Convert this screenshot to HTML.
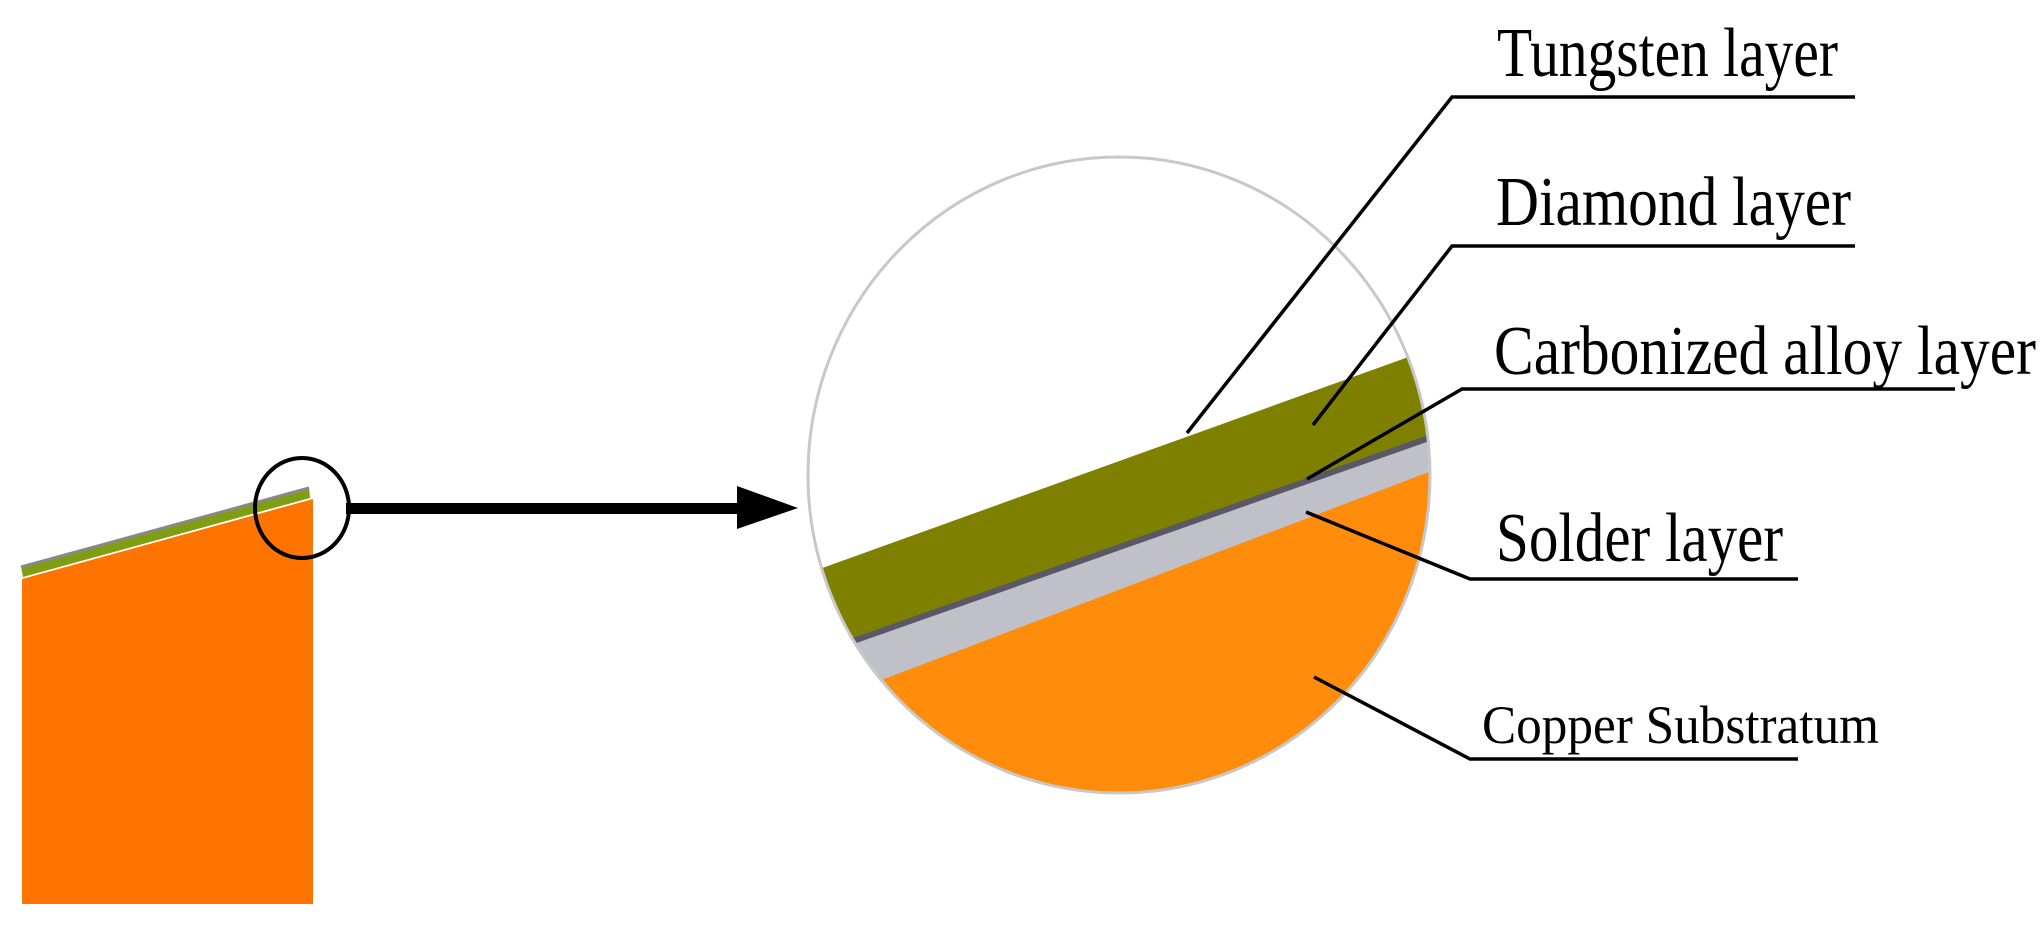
<!DOCTYPE html>
<html><head><meta charset="utf-8"><style>html,body{margin:0;padding:0;background:#fff;overflow:hidden}svg{display:block}</style></head>
<body>
<svg width="2044" height="927" viewBox="0 0 2044 927" xmlns="http://www.w3.org/2000/svg">
<defs><clipPath id="c"><ellipse cx="1119" cy="475" rx="311" ry="318"/></clipPath></defs>
<!-- left part -->
<polygon points="22,579 313,499 313,904 22,904" fill="#ff7300"/>
<polygon points="21,566 309,487 310,498 23,577" fill="#7f9e12"/>
<line x1="21" y1="567" x2="309" y2="488" stroke="#888" stroke-width="3"/>
<ellipse cx="302" cy="508" rx="47" ry="50" fill="none" stroke="#000" stroke-width="4"/>
<rect x="346" y="503" width="395" height="11" fill="#000"/>
<polygon points="737,486 798,508 737,529" fill="#000"/>
<!-- big circle -->
<g clip-path="url(#c)">
<polygon points="700,612 1500,324 1500,1000 700,1000" fill="#808000"/>
<polygon points="700,695 1500,413 1500,1000 700,1000" fill="#c0c0c8"/>
<line x1="700" y1="695" x2="1500" y2="413" stroke="#585866" stroke-width="6"/>
<polygon points="700,749 1500,445 1500,1000 700,1000" fill="#ff8c0a"/>
</g>
<ellipse cx="1119" cy="475" rx="311" ry="318" fill="none" stroke="#c8c8c8" stroke-width="3"/>
<!-- leaders -->
<g stroke="#000" stroke-width="3.5" fill="none">
<polyline points="1187,433 1452,97 1855,97"/>
<polyline points="1313,425 1452,246 1855,246"/>
<polyline points="1307,479 1462,389 1955,389"/>
<polyline points="1306,512 1470,579 1798,579"/>
<polyline points="1314,677 1470,759 1798,759"/>
</g>
<g font-family="Liberation Serif, serif" fill="#000">
<text x="1497" y="76" font-size="70" textLength="341" lengthAdjust="spacingAndGlyphs">Tungsten layer</text>
<text x="1496" y="225" font-size="70" textLength="355" lengthAdjust="spacingAndGlyphs">Diamond layer</text>
<text x="1494" y="374" font-size="70" textLength="542" lengthAdjust="spacingAndGlyphs">Carbonized alloy layer</text>
<text x="1496" y="561" font-size="70" textLength="287" lengthAdjust="spacingAndGlyphs">Solder layer</text>
<text x="1482" y="743" font-size="54" textLength="397" lengthAdjust="spacingAndGlyphs">Copper Substratum</text>
</g>
</svg>
</body></html>
